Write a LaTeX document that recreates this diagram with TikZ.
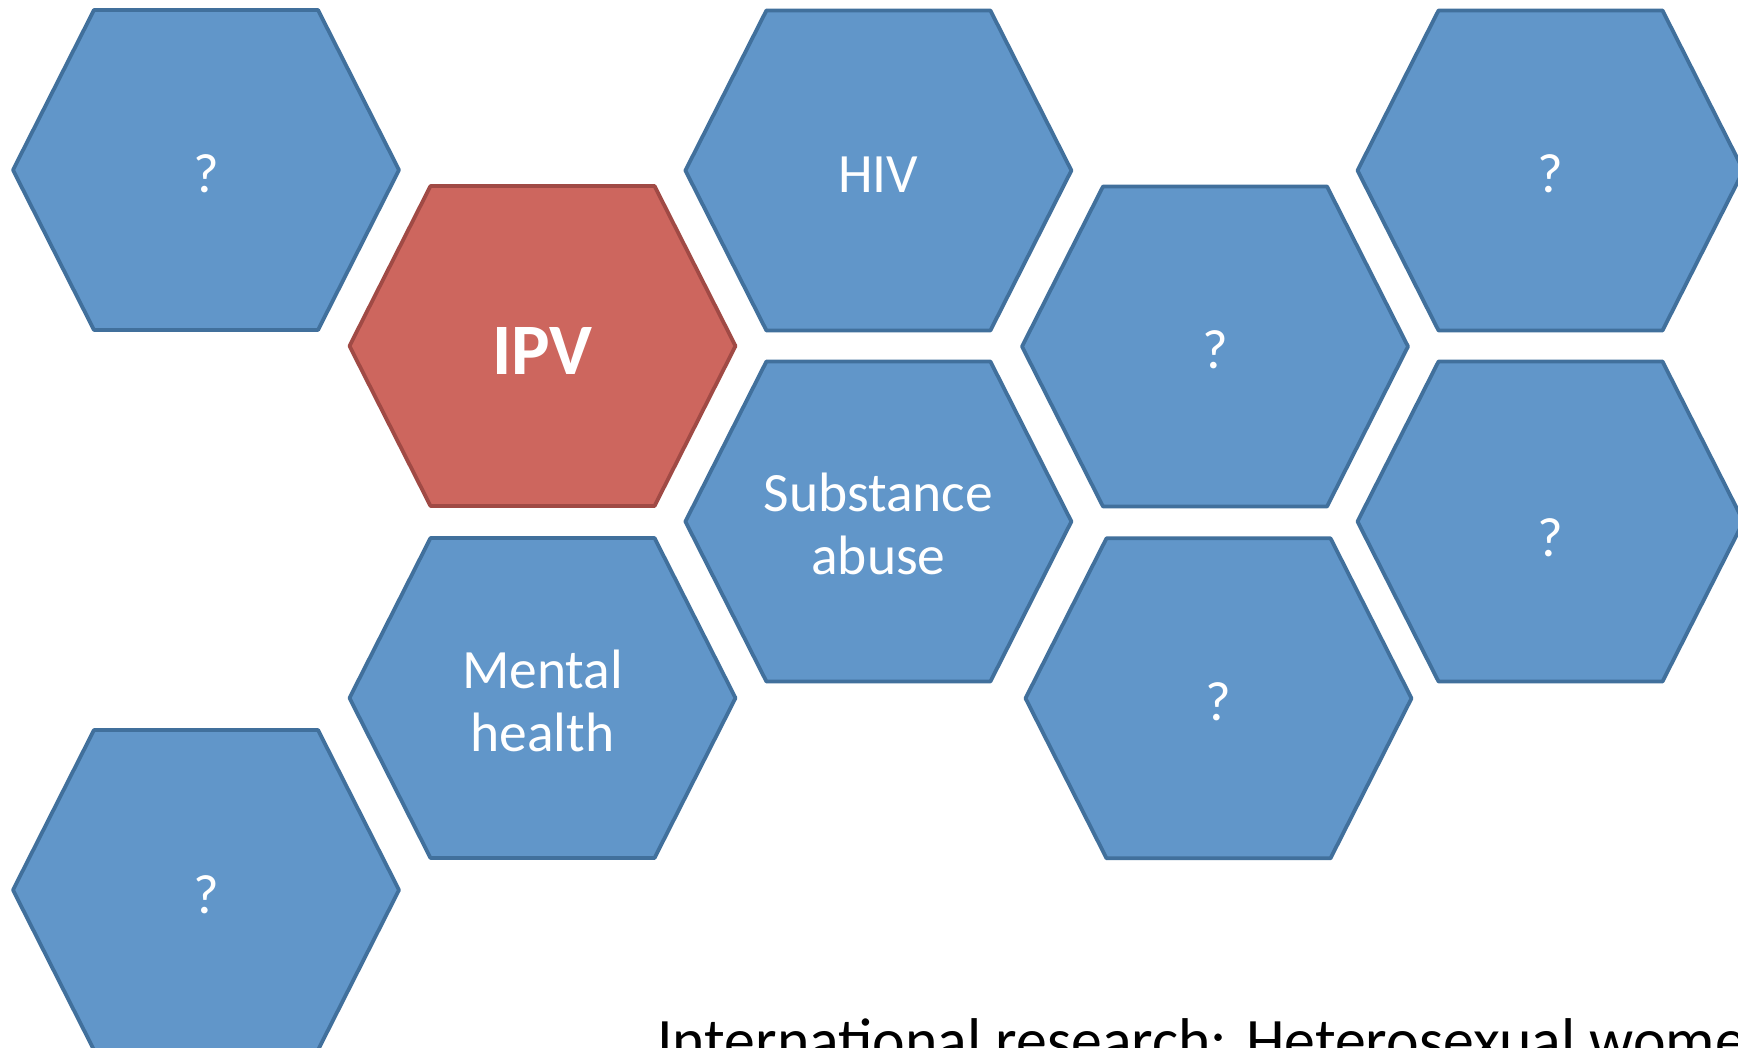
\documentclass[tikz,border=0pt]{standalone}
\usepackage{fontspec}
\setmainfont{Carlito}
\definecolor{hexblue}{RGB}{97,150,201}
\definecolor{hexblueline}{RGB}{65,112,156}
\definecolor{hexred}{RGB}{205,102,94}
\definecolor{hexredline}{RGB}{160,74,69}
\newcommand\hexcell[3]{%
  \draw[#3,shift={(#1,#2)}] (-193,0) -- (-112,-160) -- (112,-160) -- (193,0) -- (112,160) -- (-112,160) -- cycle;}
\tikzset{
  bluehex/.style={fill=hexblue,draw=hexblueline,line width=3.8pt,line join=round},
  redhex/.style={fill=hexred,draw=hexredline,line width=3.8pt,line join=round},
  lbl/.style={text=white,inner sep=0pt,anchor=base,font=\fontsize{55.5}{63}\selectfont},
  biglbl/.style={text=white,inner sep=0pt,anchor=base,font=\fontsize{72.5}{80}\selectfont\bfseries},
  caption/.style={text=black,inner sep=0pt,anchor=base west,font=\fontsize{61.8}{70}\selectfont}
}
\begin{document}
\begin{tikzpicture}[x=1pt,y=-1pt]
\useasboundingbox (0,0) rectangle (1738,1048);
\clip (0,0) rectangle (1738,1048);
\fill[white] (0,0) rectangle (1738,1048);
% hexagons
\hexcell{206}{170}{bluehex}
\hexcell{542.5}{346}{redhex}
\hexcell{878.4}{170.5}{bluehex}
\hexcell{878.4}{521.5}{bluehex}
\hexcell{542.5}{698}{bluehex}
\hexcell{206}{890}{bluehex}
\hexcell{1215}{346.5}{bluehex}
\hexcell{1218.5}{698.3}{bluehex}
\hexcell{1550.5}{170.5}{bluehex}
\hexcell{1550.5}{521.5}{bluehex}
% labels
\node[lbl] (q1) at (206,192.5) {?};
\node[biglbl] (ipv) at (542.5,375) {IPV};
\node[lbl] (hiv) at (878.4,192.3) {HIV};
\node[lbl] (sub) at (878.4,511.5) {\begin{tabular}[t]{@{}c@{}}Substance\\abuse\end{tabular}};
\node[lbl] (men) at (542.5,688) {\begin{tabular}[t]{@{}c@{}}Mental\\health\end{tabular}};
\node[lbl] (q6) at (206,913) {?};
\node[lbl] (q7) at (1215,369) {?};
\node[lbl] (q8) at (1218.5,720.5) {?};
\node[lbl] (q9) at (1550.5,193) {?};
\node[lbl] (q10) at (1550.5,556) {?};
\node[caption] (cap) at (657,1061) {International research: Heterosexual women};
\end{tikzpicture}
\end{document}
